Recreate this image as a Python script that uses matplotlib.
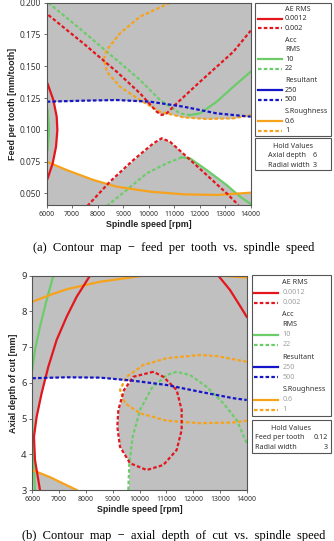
import numpy as np
import matplotlib
matplotlib.use('Agg')
import matplotlib.pyplot as plt
from matplotlib.lines import Line2D
from matplotlib.patches import Rectangle

plt.rcParams['font.family'] = ['Noto Sans', 'DejaVu Sans']

W, H = 334, 541

RED = '#e3161d'
GREEN = '#6dcc6a'
BLUE = '#1414c8'
ORANGE = '#f7a21b'
GRAY = '#c0c0c0'
EDGE = '#555555'
DASH = (0, (1.6, 1.0))

# ---------------- panel (a): feed per tooth vs spindle speed ----------------
a_red12_x = [6039, 6261, 6392, 6418, 6366, 6235, 6039]
a_red12_y = [0.136, 0.1234, 0.1103, 0.0998, 0.0867, 0.0736, 0.0618]

a_red2_up_x = [6065, 7438, 8745, 9660, 10314, 10510, 10706, 11098, 12013, 13320, 14000]
a_red2_up_y = [0.1903, 0.168, 0.1457, 0.1287, 0.1142, 0.1116, 0.1129, 0.1208, 0.1378, 0.1614, 0.178]

a_red2_low_x = [7594, 8483, 9398, 10182, 10510, 10836, 11490, 12274, 13058, 13516]
a_red2_low_y = [0.040, 0.0592, 0.0762, 0.0893, 0.0933, 0.0906, 0.0788, 0.0644, 0.050, 0.0408]

a_grn10_left_x = [6039, 6090, 6039]
a_grn10_left_y = [0.1156, 0.100, 0.0841]
a_grn10_up_x = [11621, 12013, 12667, 13320, 14000]
a_grn10_up_y = [0.1116, 0.1129, 0.1221, 0.1339, 0.1457]
a_grn10_low_x = [11294, 11621, 12274, 13058, 13581, 14000]
a_grn10_low_y = [0.0783, 0.0775, 0.0683, 0.0565, 0.0474, 0.0416]

a_grn22_up_x = [6065, 7438, 8745, 9660, 10445, 11228, 11621]
a_grn22_up_y = [0.200, 0.1772, 0.1549, 0.1392, 0.1234, 0.1129, 0.1116]
a_grn22_low_x = [8353, 9137, 9921, 10706, 11294]
a_grn22_low_y = [0.040, 0.0526, 0.0657, 0.0736, 0.0783]

a_blue500_x = [6000, 7438, 8745, 10052, 11359, 12667, 14000]
a_blue500_y = [0.1221, 0.1229, 0.1234, 0.1221, 0.1182, 0.1129, 0.1103]

a_or06_x = [6000, 6784, 7830, 8745, 10052, 11359, 12667, 14000]
a_or06_y = [0.0749, 0.0683, 0.0605, 0.0552, 0.0513, 0.0492, 0.0487, 0.0505]

a_or1_x = [10836, 9660, 8876, 8353, 8248, 8353, 8876, 9660, 10445, 11359, 12274, 13320, 14000]
a_or1_y = [0.200, 0.189, 0.1759, 0.1628, 0.1562, 0.1457, 0.1339, 0.1234, 0.1142, 0.1098, 0.1085, 0.109, 0.1116]

a_ticks_y = [0.050, 0.075, 0.100, 0.125, 0.150, 0.175, 0.200]
a_hold = [("Axial depth", "6"), ("Radial width", "3")]

# ---------------- panel (b): axial depth of cut vs spindle speed ----------------
b_red12_x = [8152, 7655, 7281, 6908, 6597, 6348, 6162, 6062, 6100, 6286]
b_red12_y = [9.0, 8.41, 7.85, 7.2, 6.45, 5.71, 5.05, 4.49, 3.84, 3.0]
b_red12r_x = [12942, 13377, 13688, 14000]
b_red12r_y = [9.0, 8.6, 8.23, 7.85]

b_red2_x = [10516, 9769, 9421, 9210, 9172, 9272, 9645, 10267, 10889, 11387, 11573, 11573, 11387, 10889, 10516]
b_red2_y = [6.31, 6.17, 5.80, 5.24, 4.77, 4.21, 3.75, 3.56, 3.70, 4.12, 4.68, 5.24, 5.80, 6.17, 6.31]

b_grn10_up_x = [6784, 6535, 6286, 6100, 6000]
b_grn10_up_y = [9.0, 8.32, 7.57, 6.92, 6.36]
b_grn10_low_x = [6000, 6037, 6100]
b_grn10_low_y = [4.96, 4.03, 3.0]

b_grn22_x = [9583, 9620, 9744, 10018, 10454, 11013, 11387, 11884, 12506, 13128, 13626, 14000]
b_grn22_y = [3.0, 3.75, 4.49, 5.24, 5.85, 6.22, 6.31, 6.22, 5.89, 5.43, 4.96, 4.31]

b_blue500_x = [6000, 7281, 8525, 9769, 11013, 12257, 13501, 14000]
b_blue500_y = [6.13, 6.155, 6.146, 6.06, 5.94, 5.75, 5.57, 5.52]

b_or06_up_x = [6000, 6659, 7281, 8525, 10143]
b_or06_up_y = [8.27, 8.46, 8.62, 8.83, 9.0]
b_or06_r_x = [13000, 14000]
b_or06_r_y = [9.0, 8.95]
b_or06_low_x = [6000, 6659, 7654]
b_or06_low_y = [3.56, 3.36, 3.0]

b_or1_x = [14000, 12879, 12257, 11013, 10143, 9520, 9272, 9458, 10018, 11013, 12257, 13501, 14000]
b_or1_y = [6.59, 6.75, 6.78, 6.69, 6.50, 6.17, 5.80, 5.43, 5.15, 4.94, 4.87, 4.89, 4.94]

b_ticks_y = [3, 4, 5, 6, 7, 8, 9]
b_hold = [("Feed per tooth", "0.12"), ("Radial width", "3")]

x_ticks = [6000, 7000, 8000, 9000, 10000, 11000, 12000, 13000, 14000]

key_groups = [("AE RMS", RED, ["0.0012", "0.002"]),
              ("Acc\nRMS", GREEN, ["10", "22"]),
              ("Resultant", BLUE, ["250", "500"]),
              ("S.Roughness", ORANGE, ["0.6", "1"])]

LABEL_FONT = ['Liberation Sans', 'DejaVu Sans']
CAPTION_FONT = ['Liberation Serif', 'DejaVu Serif']

fig = plt.figure(figsize=(W / 100, H / 100), dpi=100)


def add_axes(left, top, right, bottom):
    return fig.add_axes([left / W, 1 - bottom / H, (right - left) / W, (bottom - top) / H])


def style_axes(ax, ylabel, yticks, ylabels, ysize, ylim):
    ax.set_facecolor(GRAY)
    ax.set_xlim(6000, 14000)
    ax.set_ylim(*ylim)
    ax.set_xticks(x_ticks)
    ax.set_xticklabels([str(t) for t in x_ticks], fontsize=5.0, color='#333333')
    ax.set_yticks(yticks)
    ax.set_yticklabels(ylabels, fontsize=ysize, color='#333333')
    ax.tick_params(direction='out', length=2.5, width=0.6, color=EDGE, pad=1.5)
    for s in ax.spines.values():
        s.set_color(EDGE)
        s.set_linewidth(0.8)
    ax.set_xlabel("Spindle speed [rpm]", fontsize=6.4, fontweight='bold', color='#222222',
                  labelpad=2, family=LABEL_FONT)
    ax.set_ylabel(ylabel, fontsize=6.4, fontweight='bold', color='#222222',
                  labelpad=2, family=LABEL_FONT)


def draw_key(x0, y0, x1, y1, first, step, gap, lx0, lx1, tx, value_color):
    fig.add_artist(Rectangle((x0 / W, 1 - y1 / H), (x1 - x0) / W, (y1 - y0) / H,
                             transform=fig.transFigure, fill=False, ec=EDGE, lw=0.8))
    y = first
    for header, color, values in key_groups:
        for line in header.split("\n"):
            fig.text(tx / W, 1 - y / H, line, fontsize=5.2, va='center', ha='left', color='#333333')
            y += step
        for i, v in enumerate(values):
            fig.add_artist(Line2D([lx0 / W, lx1 / W], [1 - y / H] * 2, color=color,
                                  ls='-' if i == 0 else DASH, lw=1.6))
            fig.text(tx / W, 1 - y / H, v, fontsize=5.2, va='center', ha='left', color=value_color)
            y += step
        y += gap


def draw_hold(x0, y0, x1, y1, rows, tx, vx, cx):
    fig.add_artist(Rectangle((x0 / W, 1 - y1 / H), (x1 - x0) / W, (y1 - y0) / H,
                             transform=fig.transFigure, fill=False, ec=EDGE, lw=0.8))
    y = y0 + 8
    fig.text(cx / W, 1 - y / H, "Hold Values", fontsize=5.2, ha='center', va='center', color='#333333')
    for name, val in rows:
        y += 9.7
        fig.text(tx / W, 1 - y / H, name, fontsize=5.2, ha='left', va='center', color='#333333')
        fig.text(vx / W, 1 - y / H, val, fontsize=5.2, ha='right', va='center', color='#333333')


# ----- panel (a)
ax = add_axes(46.7, 2.7, 250.7, 205)
style_axes(ax, "Feed per tooth [mm/tooth]", a_ticks_y, ['%.3f' % t for t in a_ticks_y], 6.0,
           (0.0408, 0.2))

xx = np.linspace(6000, 14000, 600)
k = int(np.argmin(a_or1_x))
or_low_x, or_low_y = a_or1_x[k:], a_or1_y[k:]
g_low_x = a_grn22_low_x + a_grn10_low_x[1:]
g_low_y = a_grn22_low_y + a_grn10_low_y[1:]
upper = np.minimum.reduce([np.interp(xx, a_blue500_x, a_blue500_y),
                           np.interp(xx, or_low_x, or_low_y, left=1, right=1),
                           np.interp(xx, a_red2_up_x, a_red2_up_y)])
lower = np.maximum.reduce([np.interp(xx, a_or06_x, a_or06_y),
                           np.interp(xx, a_red2_low_x, a_red2_low_y, left=0, right=0),
                           np.interp(xx, g_low_x, g_low_y, left=0, right=0)])
ax.fill_between(xx, lower, np.maximum(upper, lower), color='white', lw=0)
yy = np.linspace(min(a_red12_y), max(a_red12_y), 300)
ax.fill_betweenx(yy, 6000, np.interp(yy, a_red12_y[::-1], a_red12_x[::-1]), color=GRAY, lw=0)

ax.plot(a_grn10_left_x, a_grn10_left_y, color=GREEN, lw=1.6)
ax.plot(a_grn10_up_x, a_grn10_up_y, color=GREEN, lw=1.6)
ax.plot(a_grn10_low_x, a_grn10_low_y, color=GREEN, lw=1.6)
ax.plot(a_grn22_up_x, a_grn22_up_y, color=GREEN, lw=1.6, ls=DASH)
ax.plot(a_grn22_low_x, a_grn22_low_y, color=GREEN, lw=1.6, ls=DASH)
ax.plot(a_or06_x, a_or06_y, color=ORANGE, lw=1.6)
ax.plot(a_or1_x, a_or1_y, color=ORANGE, lw=1.6, ls=DASH)
ax.plot(a_red12_x, a_red12_y, color=RED, lw=1.6)
ax.plot(a_red2_up_x, a_red2_up_y, color=RED, lw=1.6, ls=DASH)
ax.plot(a_red2_low_x, a_red2_low_y, color=RED, lw=1.6, ls=DASH)
ax.plot(a_blue500_x, a_blue500_y, color=BLUE, lw=1.6, ls=DASH)

draw_key(255, 3, 331, 136, 9.3, 9.5, 2.5, 258.3, 281.7, 285, '#333333')
draw_hold(255, 138, 331, 170, a_hold, 268, 316.7, 293)
fig.text(173.5 / W, 1 - 248 / H, "(a)  Contour  map  \u2212  feed  per  tooth  vs.  spindle  speed",
         fontsize=9.0, ha='center', va='center', family=CAPTION_FONT)

# ----- panel (b)
bx = add_axes(32.3, 275.7, 246.7, 490)
style_axes(bx, "Axial depth of cut [mm]", b_ticks_y, [str(t) for t in b_ticks_y], 6.8, (3, 9))

yy = np.linspace(3, 6.4, 400)
left = np.interp(yy, b_red12_y[::-1], b_red12_x[::-1])
m = int(np.argmin(b_red2_y))
ell_y, ell_x = b_red2_y[:m + 1][::-1], b_red2_x[:m + 1][::-1]
g = int(np.argmax(b_grn22_y))
right = np.minimum(np.interp(yy, ell_y, ell_x, left=14000, right=14000),
                   np.interp(yy, b_grn22_y[:g + 1], b_grn22_x[:g + 1], right=14000))
bx.fill_betweenx(yy, left, right, color='white', lw=0)
xx = np.linspace(6000, 14000, 600)
bx.fill_between(xx, np.interp(xx, b_blue500_x, b_blue500_y), 9, color=GRAY, lw=0)
bx.fill_between(b_or06_low_x, 3, b_or06_low_y, color=GRAY, lw=0)

bx.plot(b_grn10_up_x, b_grn10_up_y, color=GREEN, lw=1.6)
bx.plot(b_grn10_low_x, b_grn10_low_y, color=GREEN, lw=1.6)
bx.plot(b_grn22_x, b_grn22_y, color=GREEN, lw=1.6, ls=DASH)
bx.plot(b_or06_up_x, b_or06_up_y, color=ORANGE, lw=1.6)
bx.plot(b_or06_r_x, b_or06_r_y, color=ORANGE, lw=1.6)
bx.plot(b_or06_low_x, b_or06_low_y, color=ORANGE, lw=1.6)
bx.plot(b_or1_x, b_or1_y, color=ORANGE, lw=1.6, ls=DASH)
bx.plot(b_red12_x, b_red12_y, color=RED, lw=1.6)
bx.plot(b_red12r_x, b_red12r_y, color=RED, lw=1.6)
bx.plot(b_red2_x, b_red2_y, color=RED, lw=1.6, ls=DASH)
bx.plot(b_blue500_x, b_blue500_y, color=BLUE, lw=1.6, ls=DASH)

draw_key(252, 275, 331, 416, 282.7, 10, 2.3, 254, 278.3, 282.3, '#a0a0a0')
draw_hold(252, 420, 331, 453, b_hold, 255, 328.3, 291.5)
fig.text(173.5 / W, 1 - 536 / H, "(b)  Contour  map  \u2212  axial  depth  of  cut  vs.  spindle  speed",
         fontsize=9.0, ha='center', va='center', family=CAPTION_FONT)

fig.savefig('out.png', dpi=100)
